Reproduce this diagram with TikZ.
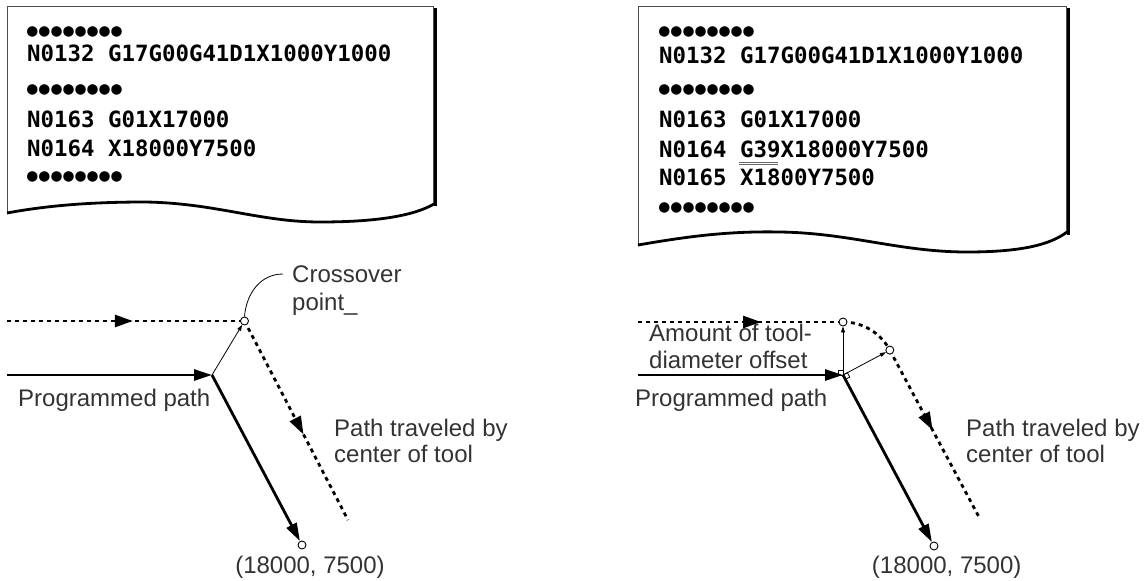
\documentclass[tikz,border=0pt]{standalone}
\usepackage{fontspec}
\setmainfont{Liberation Sans}
\newfontfamily\codefont{DejaVu Sans Mono}
\usetikzlibrary{arrows.meta,decorations.markings}

\newcommand\dotrow{●\kern1.5pt●\kern1.5pt●\kern1.5pt●\kern1.5pt●\kern1.5pt●\kern1.5pt●\kern1.5pt●}

\tikzset{
  code/.style={anchor=base west, inner sep=0pt, font=\codefont\bfseries\fontsize{22.4}{24}\selectfont},
  dots/.style={anchor=west, inner sep=0pt, font=\codefont\fontsize{17.5}{24}\selectfont},
  lbl/.style={anchor=base west, inner sep=0pt, align=left, text=black!80, font=\fontsize{24}{26.5}\selectfont},
  paper/.style={line width=0.8pt, black!70},
  curl/.style={line width=2.8pt},
  shade/.style={line width=3pt},
  prog/.style={line width=2.8pt, -{Triangle[length=18pt,width=11pt]}},
  tool/.style={line width=2.8pt, dash pattern=on 4pt off 4pt},
  offs/.style={line width=0.8pt, -{Triangle[length=6pt,width=4pt]}},
  pt/.style={circle, draw, line width=0.9pt, fill=white, inner sep=0pt, minimum size=8pt},
  midarrow/.style={decoration={markings, mark=at position #1 with {\arrow{Triangle[length=18pt,width=12pt]}}}, postaction={decorate}},
}

\begin{document}
\begin{tikzpicture}[x=1pt,y=-1pt]
    \useasboundingbox (0,0) rectangle (1144,581);

    % left listing
    \draw[paper] (7,213) -- (7,6) -- (433,6) -- (433,205);
    \draw[shade] (435.5,8) -- (435.5,206);
    \draw[curl] (7,213) .. controls (50,205) and (95,202) .. (145,202) .. controls (215,203) and (260,222) .. (320,222) .. controls (380,222) and (415,215) .. (434,204);
    \node[dots] (ld1) at (27,32) {\dotrow};
    \node[code] (l132) at (27,61) {N0132 G17G00G41D1X1000Y1000};
    \node[dots] (ld2) at (27,89.5) {\dotrow};
    \node[code] (l163) at (27,127) {N0163 G01X17000};
    \node[code] (l164) at (27,156) {N0164 X18000Y7500};
    \node[dots] (ld3) at (27,177) {\dotrow};

    % right listing
    \draw[paper] (638,245) -- (638,6) -- (1066,6) -- (1066,233);
    \draw[shade] (1068.5,8) -- (1068.5,235);
    \draw[curl] (638,245) .. controls (690,236) and (730,231) .. (780,232) .. controls (850,233) and (900,252) .. (967,252) .. controls (1020,252) and (1050,245) .. (1067,232);
    \node[dots] (rd1) at (659,32) {\dotrow};
    \node[code] (r132) at (659,63) {N0132 G17G00G41D1X1000Y1000};
    \node[dots] (rd2) at (659,89.5) {\dotrow};
    \node[code] (r163) at (659,127) {N0163 G01X17000};
    \node[code] (r164) at (659,157) {N0164 G39X18000Y7500};
    \node[code] (r165) at (659,185) {N0165 X1800Y7500};
    \node[dots] (rd3) at (659,207.5) {\dotrow};
    \draw[line width=0.8pt, black!60] (739,162) -- (778,162) (739,164.5) -- (778,164.5);

    % left paths
    \coordinate (Lin) at (7,375);
    \coordinate (Lcorner) at (212,375);
    \coordinate (Lend) at (302,545);
    \coordinate (Ldin) at (7,321);
    \coordinate (Lcross) at (244.5,321);
    \coordinate (Ldout) at (348,520);
    \coordinate (Lleader) at (283,274);
    \draw[tool, midarrow=0.53] (Ldin) -- (Lcross);
    \draw[tool, midarrow=0.57] (Lcross) -- (Ldout);
    \node[pt] (Lcrossdot) at (Lcross) {};
    \node[pt] (Lenddot) at (Lend) {};
    \draw[prog] (Lin) -- (Lcorner);
    \draw[prog] (Lcorner) -- (Lenddot);
    \draw[offs] (Lcorner) -- (Lcrossdot);
    \draw[line width=0.8pt] (Lleader) .. controls +(-22,0) and +(2,-24) .. (Lcrossdot.north);
    \node[lbl, font=\fontsize{24}{28}\selectfont] (crosslbl) at (292,310) {Crossover\\point\_};
    \node[lbl] (lprog) at (18,406.7) {Programmed path};
    \node[lbl] (ltool) at (334,462.5) {Path traveled by\\center of tool};
    \node[lbl, anchor=base] (lendlbl) at (310,573) {(18000, 7500)};

    % right paths
    \coordinate (Rin) at (638,375);
    \coordinate (Rcorner) at (843,375);
    \coordinate (Rend) at (934,546);
    \coordinate (Rdin) at (638,322);
    \coordinate (Ra) at (843,322);
    \coordinate (Rb) at (889.8,350.1);
    \coordinate (Rdout) at (979,517);
    \draw[tool, midarrow=0.6] (Rdin) -- (Ra);
    \draw[tool] (Ra) arc[start angle=-90, end angle=-28, radius=53];
    \draw[tool, midarrow=0.48] (Rb) -- (Rdout);
    \draw[line width=0.8pt, fill=white] (Rcorner) rectangle ++(-5,-5);
    \draw[line width=0.8pt, fill=white] (Rcorner) -- ++(2.35,4.4) -- ++(4.4,-2.35) -- ++(-2.35,-4.4) -- cycle;
    \node[pt] (Radot) at (Ra) {};
    \node[pt] (Rbdot) at (Rb) {};
    \node[pt] (Renddot) at (Rend) {};
    \draw[prog] (Rin) -- (Rcorner);
    \draw[prog] (Rcorner) -- (Renddot);
    \draw[offs] (Rcorner) -- (Radot);
    \draw[offs] (Rcorner) -- (Rbdot);
    \node[lbl] (ramount) at (649,368) {Amount of tool-\\diameter offset};
    \node[lbl] (rprog) at (635,406) {Programmed path};
    \node[lbl] (rtool) at (966,462.7) {Path traveled by\\center of tool};
    \node[lbl, anchor=base] (rendlbl) at (946.7,573) {(18000, 7500)};
\end{tikzpicture}
\end{document}
